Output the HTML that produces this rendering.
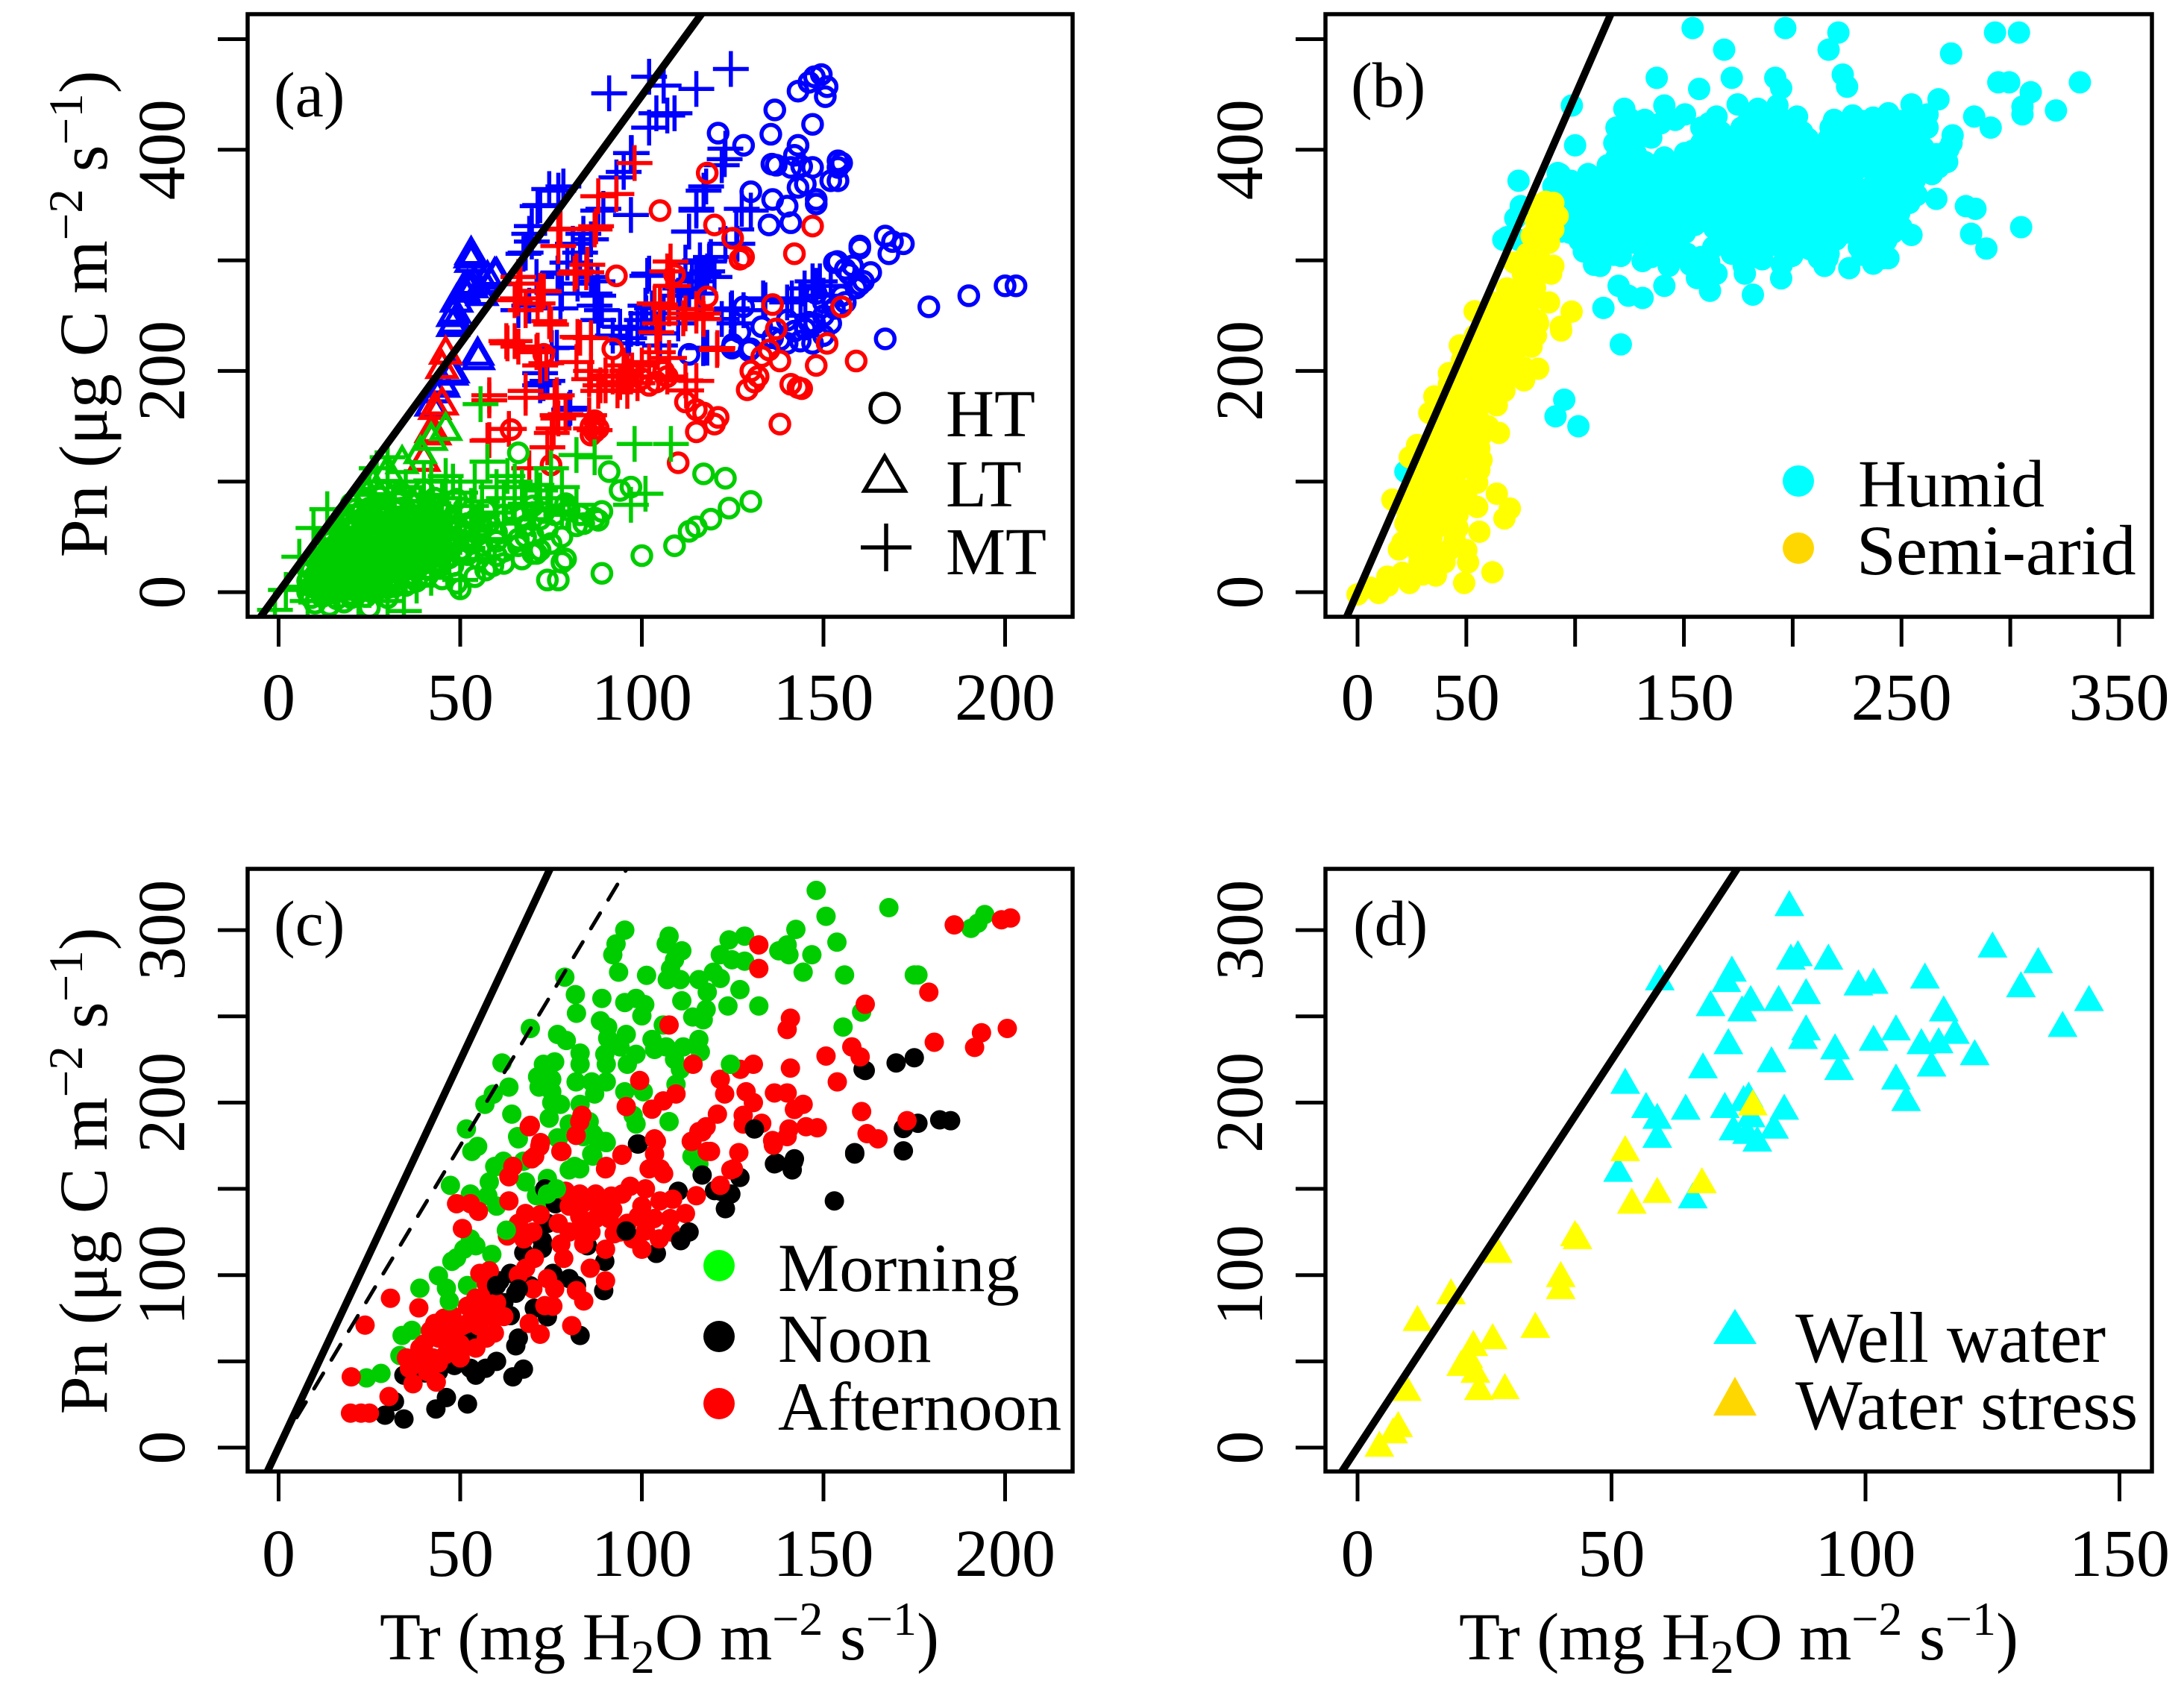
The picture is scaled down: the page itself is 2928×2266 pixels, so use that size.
<!DOCTYPE html>
<html>
<head>
<meta charset="utf-8">
<title>Pn vs Tr scatter panels</title>
<style>
html,body{margin:0;padding:0;background:#fff;}
svg{display:block;}
text{font-family:"Liberation Serif",serif;font-size:90px;fill:#000;}
</style>
</head>
<body>
<svg id="figure" xmlns="http://www.w3.org/2000/svg" width="2928" height="2266" viewBox="0 0 2928 2266">
<defs>
<clipPath id="clip-a"><rect x="332" y="19" width="1106" height="808"/></clipPath>
<clipPath id="clip-b"><rect x="1777" y="19" width="1108" height="808"/></clipPath>
<clipPath id="clip-c"><rect x="332" y="1165" width="1106" height="808"/></clipPath>
<clipPath id="clip-d"><rect x="1777" y="1165" width="1108" height="808"/></clipPath>
</defs>
<g id="layer"></g>

<text x="367" y="156" style="font-size:86px">(a)</text>
<text x="1811" y="143" style="font-size:86px">(b)</text>
<text x="367" y="1267" style="font-size:86px">(c)</text>
<text x="1814" y="1267" style="font-size:86px">(d)</text>

<text transform="translate(143,421) rotate(-90)" text-anchor="middle" style="font-size:92px">Pn (μg C m<tspan font-size="65" dy="-33">−2</tspan><tspan dy="33"> s</tspan><tspan font-size="65" dy="-33">−1</tspan><tspan dy="33">)</tspan></text>
<text transform="translate(143,1570) rotate(-90)" text-anchor="middle" style="font-size:92px">Pn (μg C m<tspan font-size="65" dy="-33">−2</tspan><tspan dy="33"> s</tspan><tspan font-size="65" dy="-33">−1</tspan><tspan dy="33">)</tspan></text>
<text x="884" y="2225" text-anchor="middle">Tr (mg H<tspan font-size="64" dy="18">2</tspan><tspan dy="-18">O m</tspan><tspan font-size="64" dy="-33">−2</tspan><tspan dy="33"> s</tspan><tspan font-size="64" dy="-33">−1</tspan><tspan dy="33">)</tspan></text>
<text x="2331" y="2225" text-anchor="middle">Tr (mg H<tspan font-size="64" dy="18">2</tspan><tspan dy="-18">O m</tspan><tspan font-size="64" dy="-33">−2</tspan><tspan dy="33"> s</tspan><tspan font-size="64" dy="-33">−1</tspan><tspan dy="33">)</tspan></text>

<g>
<g><circle cx="1186" cy="547" r="19" fill="none" stroke="#000" stroke-width="5.5"/><text x="1268" y="585">HT</text></g>
<g><polygon points="1186,612 1213,658 1159,658" fill="none" stroke="#000" stroke-width="5.5"/><text x="1268" y="679">LT</text></g>
<g><path d="M1154 734H1222M1188 702V766" fill="none" stroke="#000" stroke-width="5.5"/><text x="1268" y="770">MT</text></g>
</g>
<g>
<g><circle cx="2411" cy="645" r="21" fill="#00FFFF"/><text x="2491" y="679">Humid</text></g>
<g><circle cx="2411" cy="735" r="21" fill="#FFD700"/><text x="2489" y="770" style="font-size:95px">Semi-arid</text></g>
</g>
<g>
<g><circle cx="964" cy="1697" r="21" fill="#00FF00"/><text x="1043" y="1731" style="font-size:92.5px">Morning</text></g>
<g><circle cx="964" cy="1792" r="21" fill="#000"/><text x="1043" y="1826" style="font-size:92.5px">Noon</text></g>
<g><circle cx="964" cy="1882" r="21" fill="#FF0000"/><text x="1043" y="1917" style="font-size:92.5px">Afternoon</text></g>
</g>
<g>
<g><polygon points="2326,1755 2355,1802 2297,1802" fill="#00FFFF"/><text x="2407" y="1826" style="font-size:96px">Well water</text></g>
<g><polygon points="2326,1846 2355,1898 2297,1898" fill="#FFD700"/><text x="2407" y="1916" style="font-size:95px">Water stress</text></g>
</g>
</svg>
<script>
// ---------- shared axis values ----------
var xTicksAC = [0,50,100,150,200];
var xLabelsAC = ["0","50","100","150","200"];
var xTicksB = [0,50,100,150,200,250,300,350];
var xLabelsB = ["0","50","","150","","250","","350"];
var xTicksD = [0,50,100,150];
var xLabelsD = ["0","50","100","150"];
var yTicksAB = [0,100,200,300,400,500];
var yLabelsAB = ["0","","200","","400",""];
var yTicksCD = [0,50,100,150,200,250,300];
var yLabelsCD = ["0","","100","","200","","300"];
var limitSlope = 4.49;
var dashedSlope = 3.5;

// ---------- panel (a) ----------
var aBlueHT = [[143,453],[146,461],[147.5,466],[149.4,468],[151,457],[150.5,448],[136.6,436],[147,423],[121,415],[128,404],[135.5,414],[143,404],[142,395],[137,386],[141,384],[144,385],[147,384],[154,390],[155,388],[154,384],[152,372],[154,372],[145,369],[143,366],[130,362],[136,355],[140,349],[148,355],[148,351],[135,332],[141,334],[167,322],[169,317],[172,315],[168,306],[160,311],[153,298],[156,292],[158,295],[163,289],[161,281],[159,275],[160,278],[155,268],[150,262],[150,250],[152,243],[145,238],[142,236],[147,225],[140,225],[138,228],[130,220],[125,224],[127,235],[128,258],[203,277],[200,277],[190,268],[179,258],[167,229],[146,244],[156,262],[148,270],[136,230],[113,215],[135.8,387],[124.8,220.7],[129.5,218.4],[143.6,227],[147.6,243],[153,256.6],[157,288],[153.8,299],[160,313],[133,240],[140,246],[150,232]];
var aRedHT = [[118,379],[105,345],[120,332],[147,331],[125,320],[128,303],[127,301],[142,306],[93,286],[109,287],[118,267],[136,260],[155,258],[137,238],[151,225],[135,219],[133,213],[138,209],[148,205],[159,209],[130,200],[132,195],[131,190],[129,183],[141,188],[143,185],[144,184],[115,165],[112,172],[117,162],[121,158],[115,145],[120,152],[138,152],[110,117],[64,147],[75,115],[86,150],[87,155],[88,148],[86,142],[87,145],[92,220],[106,200],[107,195],[100,193],[97,200],[102,187],[73,215],[104,190]];
var aGreenHT = [[130,82],[124,76],[119,66],[115,59],[113,55],[109,42],[100,33],[89,17],[123,103],[117,107],[97,95],[94,92],[91,109],[66,126],[78,27],[79,30],[74,11],[77,11],[71,35],[50,3],[49,8],[54,14],[57,20],[59,24],[55,30],[60,33],[62,37],[66,42],[70,35],[72,38],[75,44],[78,50],[82,60],[84,62],[87,67],[89,73],[88,65],[83,70],[79,80],[72,66],[68,60],[64,58],[60,54],[55,52],[52,46],[48,42],[65,71],[70,78],[76,70],[80,74],[58,63],[52,62],[46,30],[44,22],[40,14],[36,8],[30,-5],[25,-14],[32,5],[70,52],[74,57],[67,30],[62,26],[66,48],[45,12],[8,0],[11,2],[14,-1],[17,1],[20,-2],[25,1],[10,-10],[14,-12],[18,-9],[8,10],[11,11],[15,9],[19,12],[23,10],[28,9],[33,12],[38,10],[9,20],[12,22],[16,19],[20,21],[25,20],[30,18],[36,21],[42,20],[10,30],[13,31],[17,29],[21,32],[26,30],[31,28],[37,31],[42,33],[47,31],[12,40],[15,41],[19,39],[23,42],[28,40],[33,38],[39,41],[45,40],[50,38],[13,50],[17,52],[21,49],[25,51],[30,50],[35,48],[41,51],[47,50],[16,60],[19,62],[23,59],[27,61],[32,60],[37,58],[43,61],[49,60],[18,70],[22,71],[26,69],[30,72],[35,70],[40,68],[46,71],[20,80],[24,82],[28,79],[33,81],[38,80],[44,78],[24,90],[29,91],[34,89],[40,92],
[9,-5],[12,-4],[16,-6],[20,-5],[24,-4],[9,5],[13,6],[17,4],[21,6],[25,5],[30,4],[35,6],[10,15],[14,16],[18,14],[22,16],[27,15],[32,14],[37,16],[41,15],[11,25],[15,26],[19,24],[23,26],[28,25],[33,24],[38,26],[43,25],[48,24],[13,35],[17,36],[21,34],[25,36],[30,35],[35,34],[40,36],[45,35],[50,34],[14,45],[18,46],[22,44],[26,46],[31,45],[36,44],[42,46],[48,45],[53,44],[17,55],[21,56],[25,54],[29,56],[34,55],[39,54],[45,56],[51,55],[19,65],[23,66],[27,64],[32,66],[37,65],[42,64],[48,66],[54,65],[21,75],[25,76],[29,74],[34,76],[39,75],[45,74],[51,76],[24,85],[28,86],[33,84],[38,86],[43,85],[49,84],[56,60],[60,46],[56,42],[52,34],[57,74],[62,70],[67,68],[73,72],[68,50],
[12,2],[15,2],[18,2],[21,2],[24,2],[27,2],[10,8],[13,8],[16,8],[19,8],[22,8],[25,8],[28,8],[31,8],[11,14],[14,14],[17,14],[20,14],[23,14],[26,14],[29,14],[32,14],[35,14],[11,20],[14,20],[18,20],[22,20],[24,20],[27,20],[32,20],[34,20],[38,20],[13,26],[17,26],[21,26],[24,26],[27,26],[30,26],[33,26],[36,26],[40,26],[44,26],[12,32],[15,32],[19,32],[23,32],[27,32],[29,32],[33,32],[35,32],[39,32],[43,32],[14,38],[17,38],[21,38],[25,38],[27,38],[31,38],[35,38],[37,38],[41,38],[44,38],[16,44],[20,44],[24,44],[29,44],[33,44],[37,44],[41,44],[46,44],[15,50],[19,50],[23,50],[27,50],[33,50],[37,50],[39,50],[43,50],[45,50],[19,56],[23,56],[27,56],[31,56],[36,56],[41,56],[47,56],[21,62],[25,62],[30,62],[34,62],[39,62],[45,62],[24,68],[28,68],[33,68],[38,68],[43,68],[23,74],[27,74],[32,74],[37,74],[42,74]];
var aBlueLT = [[53,307],[53,300],[52,277],[51,273],[57.5,285],[60,288],[49,264],[48,251],[48,242],[55,212],[48,200],[43,182],[45,190],[42,170],[54,280],[56,270],[52.8,304],[59.5,288],[56.4,281],[50.9,274.6],[53.2,277],[48.5,254],[48.5,245],[54.8,216],[47.7,198],[45.4,187]];
var aRedLT = [[46,217],[45,204],[43,167],[42,146],[40,120],[45,171],[43,144]];
var aGreenLT = [[46,148],[39,127],[42,139],[30,110],[26,98],[34,118]];
var aBluePlus = [[124.5,473],[102,466],[91,451],[106,458],[115,455],[104,433],[109,433],[107,431],[102,420],[123,401],[122,386],[97,397],[93,375],[117,363],[77,363],[72,350],[97,341],[115,345],[88,345],[130,345],[113,326],[126,328],[69,324],[68,307],[81,315],[86,319],[123,315],[119,303],[116,300],[112,298],[83,307],[79.5,298],[77,289],[71,285],[101.5,286],[86,285],[115,281],[118,290],[113,272],[110,268],[88,268],[89,255],[88,246],[124.5,255],[128,255],[122,247],[134,264],[143.7,264],[148,277],[152,277],[101,259],[100,246],[97,238],[96,225],[105,243],[110,243],[118,221],[76.6,221],[74,191],[72,187],[80,165],[66,255],[69,259],[94,240],[106,252],[116,270],[120,285],[78,270],[92,232],[145,250],[140,262],[150,268],
[87,259],[87,270],[87.8,281],[77.6,256.6],[82.3,279],[76.8,288],[83.9,324],[89.4,346.6],[95,380],[97.2,397],[102,288],[113,326],[117,288],[118.5,299],[115,346.6],[117.7,366.8],[122.8,391.5],[113.8,281],[110.6,274.6],[102.8,256.6],[101.2,252],[98.8,238.6],[96.5,229.7],[105,234],[105,223],[116.9,220.7],[124.8,256.6],[125.5,243],[133.4,265.6],[141.3,265.6],[144.8,274.6],[147,281],[149,281],[127.5,346.6],[126.3,315],[75.2,220.7],[72.9,189],[80.3,166.7],[72,198],[69.7,331],[74.5,364.5],[78.4,366.8],[71.3,349],[69.7,317],[67.4,306]];
var aRedPlus = [[93,360],[88,358],[98,388],[77,328],[87,328],[77,313],[85,296],[82,290],[66,285],[73,272],[65,264],[68,255],[75,242],[63,225],[71,217],[83,230],[107,290],[108,277],[105,260],[112,252],[115,256],[117,247],[104,235],[104.4,217],[120.7,219],[86,200],[92,195],[90,187],[96,182],[115,191],[107,195],[102,208],[68,182],[58,178],[76.6,178],[57.5,137],[75.7,148],[74,131],[69,112],[77,157],[86,148],[79,161],[88,182],[95,195],[100,205],[66,222],[72,205],[82,208],
[85.5,192.6],[88.6,187],[93.3,182.5],[97.3,200.4],[98.8,189],[112,191.4],[74.5,245],[82.3,230.8],[86,229.7],[77.6,328.6],[87.4,330.8],[81.5,288],[84.7,289.2],[72,272.4],[66.6,279],[65.8,265.6],[71.3,261],[62.7,227],[65,227],[71.3,218.4],[73.7,207],[58,173.5],[68,175.7],[76,175.7],[76.8,160],[63.4,147.6],[58,137.5],[75.2,144],[85.5,160],[87,146.5],[107.9,299],[108.6,277],[103.5,261],[107.5,256.6],[115,250],[116.9,252],[105,243],[111.4,247.6],[107.5,211.7],[112.2,182.4],[120.8,220.7],[94,190],[96,200],[90,196],[95,205],[97,195]];
var aGreenPlus = [[98,134],[108,134],[55.6,170],[82,124],[87,122],[57.5,118],[63,105],[75,112],[71,97],[101,89],[97,79],[82,79],[78,73],[46,105],[42,101],[27,112],[30,122],[13.4,75],[9.6,58],[5.7,32],[2,2],[-1,-16],[34.5,-17],[42,13],[50,11],[46,55],[50,68],[55,60],[60,72],[65,78],[70,66],[75,85],[72,92],[62,85],[56,82],[50,90],[45,85],[48,100],[53,78],[40,100],[67,95],[78,95],[80,70],[58,48],[52,40],[47,30],[42,20],[38,6],[30,-8],[25,2],[55,30],[6,5],[8,-8],[11,8],[14,18],[12,33],[16,42],[15,55],[19,66],[22,78],[25,88],[22,-6],[18,6],[21,16],[24,26],[27,36],[30,46],[33,56],[36,66],[39,76],[42,88],[35,95],[30,100],[34,30],[38,40],[41,48],[44,58],[47,66],[35,14],[40,27],[28,16],[32,84],[28,64],[24,48],[20,34],[50,50],[56,70],[62,62],[68,80],[74,76],[60,95],[65,100],[54,100]];

// ---------- panel (b) ----------
var bHumid = [[154,510],[196.6,510],[221,506],[293,506],[304,506],[168.5,490.5],[216.5,490.5],[272.8,487],[137.5,465],[157,455],[172,465],[192,465],[194.7,455.7],[223,468],[225,457],[294.5,461],[299.5,461],[332,461],[309.4,452],[305.6,439],[305.6,432],[321,435.5],[283.4,430],[291,420],[273.5,413],[267,445.6],[271.6,400.6],[100,404],[98.5,440],[74,372],[75,349],[68.8,321],[266,355.6],[279.6,349],[284,346.6],[282,324],[289,310.7],[305,330],[254.6,323],[264,378],[162,272.5],[181.7,269],[226,293],[214.6,295],[194.7,283.7],[141,277],[156,284],[120,277],[113,257],[131,266],[124.5,268],[111.5,295],[131,299.4],[143,295],[165,288],[178,288],[241.5,302],[121,224],[95,174],[91,159],[101.5,150],[22,109],[96.6,333],[94,326],[98.5,342],[93,378],[106,378],[90,367],[72.5,338],[67,318.6],[74,318.6],
[122.6,437],[132,427],[141,440],[150.5,432],[161.6,424],[174.7,441],[184,437],[193,440],[202,430],[219,427],[227.6,431],[237,429],[244,433],[254.6,441],[262,432],
[119,420],[128,416],[139.4,424],[158,420],[167,416],[176.5,420],[186,424],[195,420],[204.4,416],[217.4,420],[226.7,416],[236,420],[243,416],[254.6,424],[262,420],
[118,406],[127,402],[158,406],[166,402],[174.7,406],[184,410],[191.4,406],[199.7,402],[208,406],[216.5,410],[225,406],[236,402],[244,406],[252.7,410],[260,402],[273,406],
[119,393],[132,389],[141,393],[150.5,397],[159,393],[167,389],[175.6,393],[184,397],[192,393],[200.7,389],[209,393],[217.4,397],[226,393],[236,389],[245,393],[253.6,397],[262,393],[271,389],
[92,379],[109.6,375],[122.6,379],[131,383],[139.4,379],[147.7,375],[156,379],[164.4,383],[173,379],[181,375],[189.5,379],[198,383],[206,379],[214.6,375],[223,379],[236,383],[244,379],[251,375],[263,379],
[93,366],[102,362],[109.6,366],[122.6,370],[131,366],[139.4,362],[147.7,366],[156,370],[164.4,366],[173,362],[181,366],[189.5,370],[198,366],[206,362],[214.6,366],[223,370],[236,366],[244,362],[252.7,366],
[98.5,352],[111.5,348],[120,352],[128,356],[136.6,352],[145,348],[153,352],[161.6,356],[170,352],[178,348],[186.7,352],[195,356],[203.5,352],[212,348],[220,352],[228.5,356],[237,352],[245,348],[253.6,352],
[109.6,339],[118,335],[126.4,339],[134.7,343],[143,339],[151.4,335],[160,339],[168,343],[176.5,339],[185,335],[193,339],[201.6,343],[210,339],[218,335],[226.7,339],[237,343],[245,339],
[97.6,325],[108.7,321],[117,325],[125.4,329],[133.8,325],[142,321],[150.5,325],[165,329],[174,325],[182,321],[190.5,325],[199,329],[207,325],[215.5,321],[224,325],[238,329],[246,325],
[104,308],[112.4,314],[121,304],[129,316],[141,310],[151.4,306],[163.5,312],[176.5,306],[191.4,314],[199.7,304],[208,310],[216.5,306],[230.4,312],[239.7,306],
[108.7,296],[145,303],[153,296],[161.6,299],[177.5,295],[186,301],[195,296],[212,302],[237,297],[244,302],
[125,428],[136,422],[146,427],[165,430],[180,428],[190,430],[198,426],[222,423],[232,426],[241,422],[250,426],[258,429],
[123,413],[135,411],[163,413],[171,410],[180,414],[189,411],[198,413],[207,410],[222,413],[232,410],[240,414],[248,411],[256,413],
[122,399],[128,396],[154,399],[163,396],[171,400],[180,397],[188,399],[196,396],[205,400],[213,397],[222,399],[231,396],[240,400],[249,397],[258,399],[266,396],
[115,386],[125,384],[136,386],[145,384],[155,387],[164,384],[172,386],[180,383],[188,387],[197,384],[205,386],[213,383],[222,387],[231,384],[241,386],[250,383],[259,387],[267,384],
[98,372],[105,370],[116,372],[127,370],[135,373],[143,370],[152,372],[160,369],[169,373],[177,370],[185,372],[194,369],[202,373],[210,370],[219,372],[228,369],[240,373],[248,370],[256,372],
[104,359],[116,357],[125,359],[134,357],[142,360],[150,357],[158,359],[167,356],[175,360],[184,357],[192,359],[200,356],[209,360],[217,357],[226,359],[232,356],[240,360],[249,357],[257,359],
[104,345],[115,343],[123,345],[131,343],[139,346],[147,343],[156,345],[164,342],[173,346],[181,343],[189,345],[197,342],[206,346],[214,343],[223,345],[232,342],[241,346],[249,343],
[105,332],[113,330],[122,332],[130,330],[138,333],[146,330],[155,332],[164,329],[172,333],[180,330],[188,332],[196,329],[204,333],[213,330],[222,332],[232,329],[241,333],[250,330],
[102,318],[110,316],[119,318],[127,316],[136,319],[146,316],[170,318],[178,315],[186,319],[195,316],[203,318],[212,315],[220,319],[234,316],[243,318],
[118,305],[135,303],[148,305],[158,303],[172,306],[183,303],[200,305],[216,302],[232,305],[241,302]];
var bSemiArid = [[86.4,353],[87.5,342],[86.4,328],[84.5,319.6],[82,350],[90,352],[92,340],[82,335],[90,328],[80,322],[88,316],[78,306],[90,295],[89,288],[76,288],[68.7,274.6],[81.6,275],[79,261],[68.7,261],[98.4,253.6],[82.6,245.5],[93.4,240],[63,245.5],[72,241],[53.8,254],[84,300],[72,298],[82,285],[75,270],[60,255],[66,252],[74,250],[88,262],[93.6,236.6],[83,243],[74,241],[66,241],[59.3,241],[74,224],[66,223],[58,222],[50,221],[47,223],[83,202],[76.5,203],[70,205],[59.3,203],[50,200],[44.6,198.5],[76.5,191.5],[67.5,191.5],[57,191.5],[48,189],[67.5,182],[57,180],[47,180],[38,176],[64,169],[54,162.5],[43.6,162.5],[35,160],[65,144],[57,142],[46,146],[36.6,146],[48,135.5],[36.6,133],[57,119.5],[42,119.5],[31,117],[56,110.6],[41,108.5],[29.8,106],[64,89],[55,99],[46,95],[34,90],[24,83.6],[70,75.6],[67.5,66.7],[55,77],[46,70],[27,70],[23,72],[34.6,72],[56,54.6],[44.6,47.5],[34,50],[28.5,56.6],[20.6,45],[19,38.6],[28.5,27.5],[35.5,27],[40,27],[50.8,27],[62,18],[36,15],[49,8.3],[23.9,8.3],[20.6,17.5],[13.7,14],[9.7,-0.7],[0,-2],[27.4,133],[24,122],[35.3,177],[33,162],[42,198],[16,83.6],
[58,212],[66,213],[72,214],[64,200],[54,210],[48,210],[70,196],[62,180],[52,172],[60,172],[44,172],[40,168],[56,155],[48,155],[40,155],[60,150],[52,146],[42,140],[52,128],[44,128],[36,124],[48,112],[34,106],[38,96],[28,96],[50,86],[42,84],[32,80],[40,72],[22,62],[30,62],[38,60],[46,58],[26,42],[34,40],[42,38],[50,38],[30,16],[14,6],[6,4],[28,36],[66,232],[74,232],[82,232],[60,232],[54,232],[70,260],[62,262],[80,222],[42,188],[64,188],[56,130],[50,120]];

// ---------- panel (c) ----------
var cMorning = [[168,313],[194.4,309],[192.5,304],[190.6,301],[175,274],[176,274],[148,323],[150.7,308],[153.7,293],[142.4,300.4],[155.8,274],[137.7,288],[140,291.4],[140.5,285.7],[146.8,285.7],[144.4,275.6],[124,294.3],[128.3,296.5],[121.6,285.7],[124.8,282.8],[128.3,282],[95.3,300],[92.9,292],[92,285.7],[93.6,275.6],[101.3,273.8],[107.5,296.5],[106.7,292],[111,288],[109,282.8],[107.9,277.7],[107,271.3],[110.6,271.3],[115.7,271.3],[119.7,275.6],[121.6,272],[118,264],[127,265.5],[132.2,256],[123.7,256],[78.8,272.7],[81.7,262.6],[82,251.8],[89,260.4],[95.3,258],[98.4,260.4],[100.8,256.8],[100,250.3],[111,259],[114,249.6],[117.7,254],[116.9,248],[105.9,245],[155.4,243.8],[160.5,252.5],[69.3,243],[76.8,239.5],[79.2,236],[88.6,247.4],[90.6,243.8],[90.6,237.3],[95.7,239.5],[94,232.3],[98.4,228],[96,222.2],[89.8,228],[90.2,222.2],[102.8,236.6],[103.5,230.8],[106.7,232.3],[111.4,232.3],[115.7,236.6],[116.1,229.4],[109,225],[110.6,219.3],[124.4,222.2],[83,228.7],[83,222.2],[61.5,223],[72.9,222.2],[76,223.6],[71.3,215],[75.2,213.5],[81.9,212],[86.2,212],[90.2,212],[71.7,209],[75.2,206.3],[63.4,209],[59.1,204.9],[56.8,199],[95.3,206.3],[100.4,206.3],[109.4,210.6],[87,205],[75.2,200],[77.6,199],[83,199],[64.2,193.3],[74.5,191],[65.8,180.3],[97.6,192.6],[98.4,187.6],[107.5,189],[51.7,184.7],[54.8,174.6],[53.2,171.7],[76.8,179.6],[80,187.6],[85.5,189],[83.9,180.3],[87,180.3],[90.2,176.8],[86.2,170.2],[81.5,163],[61.9,166],[59.5,163],[67.4,166],[113.8,168.8],[115.7,164.5],
[47.3,152],[60,163],[58,154],[57.6,146],[60,140],[66,179],[77,179],[86.5,182],[90,177.5],[82.9,161.6],[86.5,169],[68,154],[71,146],[74,143],[74,156],[38.9,92.4],[52.8,147],[54.3,117],[47.7,108],[44,99.6],[58.7,112],[52.8,121],[52,94],[34,65],[36.7,68],[33.4,53.4],[24.2,40.4],[28.2,43],[49,110],[51,115]];
var cNoon = [[161.5,218.6],[170,223],[175,226],[172,185],[176,188],[182,190],[185,189.5],[172,172],[158.6,171],[137,165],[141.8,166],[141.4,161],[153,143],[99,176],[116.6,158],[110,148.6],[121.7,148.6],[123,138.5],[127,156.6],[120,149],[124.5,147],[104,112.6],[85,117],[89.8,108],[67.5,113],[72.6,115.5],[63.8,101],[60.9,96.7],[65.3,89.5],[69.3,93.8],[63.8,76.5],[70.4,80.8],[74,75.8],[80,98],[75.5,101],[89.5,91],[66,63.5],[65.3,59],[83,65],[67.4,45.5],[64.5,41],[54.3,42],[52.8,46],[48.4,47.6],[52,65],[34.5,42],[40.3,43.3],[31.9,26.7],[29.3,18.8],[34.5,16.6],[46.2,29],[43.3,22.4],[52,25.3],[72.6,120],[74,130],[76.2,141.4],[73.3,150],[142,167.4],[136.5,164.5],[158.6,170.2],[98.8,176],[160.9,219.3],[82,94],[58,90],[62,84],[60,50],[57,46],[44,44],[37,46]];
var cAfternoon = [[186,303],[199,306],[201.5,307],[179,264],[161.5,257],[200.6,243],[193.5,240.5],[191.6,232],[180.5,235],[173,189.5],[162,182],[165,179],[20,41],[30.8,86.6],[23.8,71],[38.6,81],[19.8,20],[22.7,20],[25,20],[30.4,29.6],[37,37],[43.4,38],[35.2,52],[38.9,57.7],[41.8,67.8],[45.5,75],[47.7,76.5],[44,63.5],[48.4,66.4],[42.5,52],[44,49],[38.9,49],[52,82],[54.3,86.6],[56.5,78],[55,70.7],[59.4,75],[57.2,63.5],[54.3,57.7],[59.4,66.4],[47.7,60.6],[50.6,70.7],[53.5,81],[69,72],[72,65.7],[80.7,70.7],[55.4,101],[58,102.5],[57.2,95],[82,91],[75.5,82],[73.3,82.3],[74,98],[78.5,109.7],[90,96.7],[85.8,104],[68,104],[70.4,109.7],[67.5,121],[63,122.7],[66,130],[68,135.7],[77,130],[77.7,118],[82.9,127],[82.9,134],[87.3,132.8],[91,132.8],[92.4,124],[97.5,121],[101,125.6],[99,134],[103.4,132.8],[107.8,132.8],[104.8,121],[82.9,147],[87.3,147],[79,148.6],[91.6,145.8],[96.8,151.5],[94.6,147],[101,150],[105,143],[108.5,144],[115,146],[112,135.7],[71.9,174.6],[69.7,167.4],[77.7,171.7],[82.9,189],[69,186],[94.6,170],[90,161.6],[104,177.5],[102,161.6],[106,158.8],[118,171.7],[113.6,177.5],[116.6,183],[63.4,157],[64.5,163],[63.4,143],[50.6,127],[49,141.4],[55,137],[52.8,141.4],[132.2,291.4],[132.2,277.7],[107.5,245],[140.9,248.9],[140,242.4],[150.7,227],[157.8,232.3],[160.1,226.5],[140.9,220],[153.8,212],[114.1,222.2],[99.4,212.8],[130.7,222.2],[127.1,219.3],[121.6,213.5],[122.8,205],[128.7,206.3],[130.7,200],[136.5,205.6],[140,205.6],[144.4,199],[142,196],[160.5,194.8],[120.8,193.3],[127.9,192.6],[127.9,187.6],[117.7,186],[140.5,184.7],[145.2,186],[148.3,185.4],[109.4,205],[105.9,201],[102.8,196.2],[95.7,197.7],[69.3,186.8],[83.5,192.6],[81.9,181],[72.1,176.8],[78,171.7],[70.5,168.8],[94.5,169.5],[103.5,179],[103.5,170.2],[113.8,177.5],[118.9,171.7],[115.7,183.2],[126.7,171],[136.2,175.3],[140,180.3],[125.2,161.6],[105.1,161.6],[90.2,163],[124.5,161],[121.6,152],[133,188],[136,178],
[40,60],[43,72],[46,68],[50,60],[52,72],[36,46],[41,44],[46,54],[50,52],[56,86],[60,84],[62,76],[80,140],[84,142],[88,140],[92,138],[96,130],[100,140],[86,125],[94,125],[80,125],[70,125],[72,135],[108,125],[100,115],[90,115],[84,118],[66,100],[70,92],[76,92],[84,85]];
var cMorningOver = [[46.2,92.4],[47,85],[62.7,126],[124.4,222.2],[76.5,150],[74,147],[80,161]];
var cNoonOver = [[95.7,125.6],[131,184.7],[113,125],[110.7,120],[60,94],[66,92]];

// ---------- panel (d) ----------
var dWellWater = [[85,315],[85.3,284],[86.7,286],[92.7,284],[125,291],[134,282],[130.6,268],[98.6,269],[101.6,270],[111.7,273],[115.4,254],[144,260],[138.8,245],[73.7,277],[72.6,271],[69.5,257],[77.4,260],[75.7,254],[82.9,260],[88.3,264],[88.3,243],[87.7,238],[94,232],[94.8,220],[101.6,237],[106,243],[111,235],[114.4,235.5],[117.6,241],[113,222],[121.5,228.6],[106,214.5],[108,202],[81.5,224.5],[73,235],[68,221],[52.7,212],[56.8,198],[59,191.7],[59,180.7],[64.6,197],[72.3,198],[76,202],[77,204],[77.4,192.6],[74,185],[76.7,183],[78.7,178.5],[82,186],[84,197],[59.5,272],[51.3,161],[66,145.6]];
var dWaterStress = [[77.8,199.5],[52.7,173],[67.8,154.4],[59,148.8],[54,142.5],[42.8,123.7],[43.3,122],[27.6,114],[40,100],[40,93],[18.4,90],[11.8,74.5],[35,70.5],[26.6,64],[22.8,60],[21.8,53],[20.4,48.5],[23.2,44.5],[23.9,34.5],[29,35],[9.7,34],[8,13],[7,9.4],[4.3,1.6]];

// ---------- axis functions ----------
function linScale(v0, p0, pxPerUnit) {
  return function (v) { return p0 + (v - v0) * pxPerUnit; };
}
var panelA = {key:'a', left:332, right:1438, top:19, bottom:827, x:linScale(0,373.5,4.87), y:linScale(0,794,-1.483), xTicks:xTicksAC, xLabels:xLabelsAC, yTicks:yTicksAB, yLabels:yLabelsAB, tickLabelY:965};
var panelB = {key:'b', left:1777, right:2885, top:19, bottom:827, x:linScale(0,1820,2.917), y:linScale(0,794,-1.483), xTicks:xTicksB, xLabels:xLabelsB, yTicks:yTicksAB, yLabels:yLabelsAB, tickLabelY:965};
var panelC = {key:'c', left:332, right:1438, top:1165, bottom:1973, x:linScale(0,373.5,4.87), y:linScale(0,1941,-2.313), xTicks:xTicksAC, xLabels:xLabelsAC, yTicks:yTicksCD, yLabels:yLabelsCD, tickLabelY:2113};
var panelD = {key:'d', left:1777, right:2885, top:1165, bottom:1973, x:linScale(0,1820,6.81), y:linScale(0,1941,-2.313), xTicks:xTicksD, xLabels:xLabelsD, yTicks:yTicksCD, yLabels:yLabelsCD, tickLabelY:2113};

var NS = 'http://www.w3.org/2000/svg';
var layer = document.getElementById('layer');
function make(tag, parent) {
  var el = document.createElementNS(NS, tag);
  parent.appendChild(el);
  return el;
}
function set(el, k, v) { el.setAttribute(k, v); }

function drawAxes(p) {
  var g = make('g', layer);
  
  
  p.xTicks.forEach(function (t, i) {
    var tick = make('line', g);
    
    
    set(tick, 'x1', p.x(t)); set(tick, 'x2', p.x(t));
    set(tick, 'y1', p.bottom); set(tick, 'y2', p.bottom + 40);
    set(tick, 'stroke', '#000'); set(tick, 'stroke-width', 5);
    if (p.xLabels[i]) {
      var lab = make('text', g);
      
      
      set(lab, 'x', p.x(t)); set(lab, 'y', p.tickLabelY);
      set(lab, 'text-anchor', 'middle');
      lab.textContent = p.xLabels[i];
    }
  });
  p.yTicks.forEach(function (t, i) {
    var tick = make('line', g);
    
    
    set(tick, 'x1', p.left); set(tick, 'x2', p.left - 40);
    set(tick, 'y1', p.y(t)); set(tick, 'y2', p.y(t));
    set(tick, 'stroke', '#000'); set(tick, 'stroke-width', 5);
    if (p.yLabels[i]) {
      var lab = make('text', g);
      
      
      set(lab, 'transform', 'translate(' + (p.left - 85) + ',' + p.y(t) + ') rotate(-90)');
      set(lab, 'text-anchor', 'middle');
      lab.textContent = p.yLabels[i];
    }
  });
}
function plotGroup(p) {
  var g = make('g', layer);
  
  
  set(g, 'clip-path', 'url(#clip-' + p.key + ')');
  return g;
}
function drawRings(p, g, pts, color, name) {
  pts.forEach(function (d) {
    var m = make('circle', g);
    
    
    set(m, 'cx', p.x(d[0])); set(m, 'cy', p.y(d[1])); set(m, 'r', 12.5);
    set(m, 'fill', 'none'); set(m, 'stroke', color); set(m, 'stroke-width', 5.5);
  });
}
function drawOpenTriangles(p, g, pts, color, name) {
  pts.forEach(function (d) {
    var cx = p.x(d[0]), cy = p.y(d[1]);
    var m = make('polygon', g);
    
    
    set(m, 'points', cx + ',' + (cy - 19) + ' ' + (cx + 19) + ',' + (cy + 14) + ' ' + (cx - 19) + ',' + (cy + 14));
    set(m, 'fill', 'none'); set(m, 'stroke', color); set(m, 'stroke-width', 5.5);
  });
}
function drawPluses(p, g, pts, color, name) {
  pts.forEach(function (d) {
    var cx = p.x(d[0]), cy = p.y(d[1]);
    var m = make('path', g);
    
    
    set(m, 'd', 'M' + (cx - 24) + ' ' + cy + 'H' + (cx + 24) + 'M' + cx + ' ' + (cy - 24) + 'V' + (cy + 24));
    set(m, 'fill', 'none'); set(m, 'stroke', color); set(m, 'stroke-width', 5.5);
  });
}
function drawDots(p, g, pts, color, r, name) {
  pts.forEach(function (d) {
    var m = make('circle', g);
    
    
    set(m, 'cx', p.x(d[0])); set(m, 'cy', p.y(d[1])); set(m, 'r', r);
    set(m, 'fill', color);
  });
}
function drawSolidTriangles(p, g, pts, color, name) {
  pts.forEach(function (d) {
    var cx = p.x(d[0]), cy = p.y(d[1]);
    var m = make('polygon', g);
    
    
    set(m, 'points', cx + ',' + (cy - 19) + ' ' + (cx + 20) + ',' + (cy + 16) + ' ' + (cx - 20) + ',' + (cy + 16));
    set(m, 'fill', color);
  });
}
function drawRefLine(p, g, slope, width, dash, startX, name) {
  var m = make('line', g);
  
  
  var x1 = startX, x2 = 140;
  set(m, 'x1', p.x(x1)); set(m, 'y1', p.y(x1 * slope));
  set(m, 'x2', p.x(x2)); set(m, 'y2', p.y(x2 * slope));
  set(m, 'stroke', '#000'); set(m, 'stroke-width', width);
  if (dash) {
    set(m, 'stroke-dasharray', dash);
    set(m, 'stroke-linecap', 'round');
  }
}
function drawBox(p) {
  var r = make('rect', layer);
  
  
  set(r, 'x', p.left); set(r, 'y', p.top);
  set(r, 'width', p.right - p.left); set(r, 'height', p.bottom - p.top);
  set(r, 'fill', 'none'); set(r, 'stroke', '#000'); set(r, 'stroke-width', 5.5);
}

// panel a
var gA = plotGroup(panelA);
drawRings(panelA, gA, aBlueHT, '#0000FF', 'point-ht-blue');
drawOpenTriangles(panelA, gA, aBlueLT, '#0000FF', 'point-lt-blue');
drawPluses(panelA, gA, aBluePlus, '#0000FF', 'point-mt-blue');
drawRings(panelA, gA, aRedHT, '#FF0000', 'point-ht-red');
drawOpenTriangles(panelA, gA, aRedLT, '#FF0000', 'point-lt-red');
drawPluses(panelA, gA, aRedPlus, '#FF0000', 'point-mt-red');
drawRings(panelA, gA, aGreenHT, '#00CD00', 'point-ht-green');
drawOpenTriangles(panelA, gA, aGreenLT, '#00CD00', 'point-lt-green');
drawPluses(panelA, gA, aGreenPlus, '#00CD00', 'point-mt-green');
drawRefLine(panelA, gA, limitSlope, 10, null, -8, 'limit-line-a');

// panel b
var gB = plotGroup(panelB);
drawDots(panelB, gB, bHumid, '#00FFFF', 15, 'point-humid');
drawDots(panelB, gB, bSemiArid, '#FFFF00', 15, 'point-semi-arid');
drawRefLine(panelB, gB, limitSlope, 10, null, -8, 'limit-line-b');

// panel c
var gC = plotGroup(panelC);
drawDots(panelC, gC, cMorning, '#00CD00', 13, 'point-morning');
drawDots(panelC, gC, cNoon, '#000000', 13, 'point-noon');
drawDots(panelC, gC, cAfternoon, '#FF0000', 13, 'point-afternoon');
drawDots(panelC, gC, cMorningOver, '#00CD00', 13, 'point-morning-front');
drawDots(panelC, gC, cNoonOver, '#000000', 13, 'point-noon-front');
drawRefLine(panelC, gC, limitSlope, 10, null, -8, 'limit-line-c');
drawRefLine(panelC, gC, dashedSlope, 5, '24 21', 5, 'dashed-line-c');

// panel d
var gD = plotGroup(panelD);
drawSolidTriangles(panelD, gD, dWellWater, '#00FFFF', 'point-well-water');
drawSolidTriangles(panelD, gD, dWaterStress, '#FFFF00', 'point-water-stress');
drawRefLine(panelD, gD, limitSlope, 10, null, -8, 'limit-line-d');

[panelA, panelB, panelC, panelD].forEach(function (p) {
  drawAxes(p);
  drawBox(p);
});
</script>
</body>
</html>
